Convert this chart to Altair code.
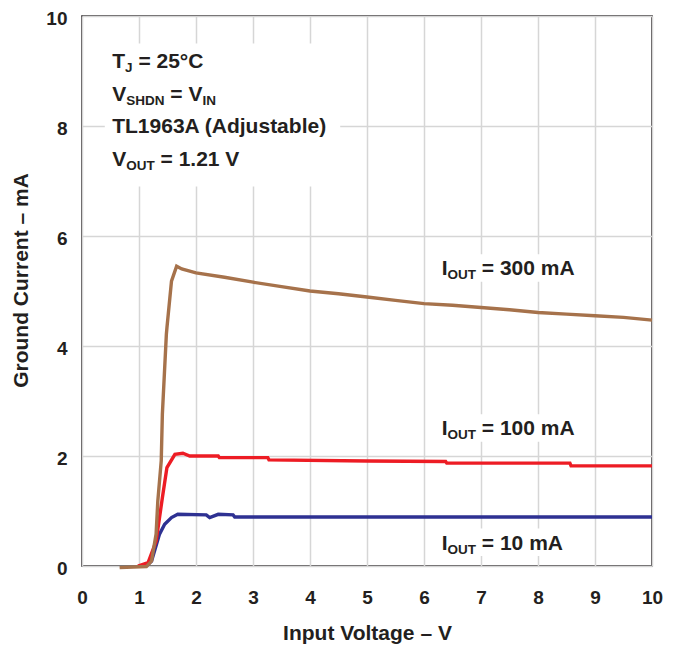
import altair as alt
import pandas as pd

# ---------------- data ----------------
v_300 = [0.66, 1.13, 1.22, 1.30, 1.33, 1.39, 1.41, 1.48, 1.49, 1.57, 1.66, 1.75, 2.0, 2.5, 3.0, 3.5, 4.0, 4.5, 5.0, 5.5, 6.0, 6.5, 7.0, 7.5, 8.0, 8.5, 9.0, 9.5, 10.0]
i_300 = [-0.03, -0.01, 0.09, 0.58, 1.18, 1.91, 2.76, 4.21, 4.33, 5.18, 5.45, 5.40, 5.33, 5.25, 5.16, 5.08, 5.00, 4.95, 4.89, 4.83, 4.77, 4.74, 4.70, 4.66, 4.61, 4.58, 4.55, 4.52, 4.47]

v_100 = [0.98, 1.16, 1.30, 1.41, 1.49, 1.63, 1.77, 1.89, 2.39, 2.41, 3.26, 3.28, 5.0, 6.38, 6.40, 8.56, 8.58, 10.0]
i_100 = [0.0, 0.06, 0.45, 1.24, 1.79, 2.03, 2.05, 2.00, 2.00, 1.97, 1.97, 1.93, 1.91, 1.90, 1.87, 1.87, 1.82, 1.82]

v_10 = [1.13, 1.22, 1.36, 1.45, 1.57, 1.68, 2.18, 2.24, 2.39, 2.65, 2.68, 10.0]
i_10 = [0.0, 0.09, 0.58, 0.76, 0.88, 0.94, 0.93, 0.88, 0.94, 0.93, 0.89, 0.89]

series_names = ["10 mA", "100 mA", "300 mA"]
series_colors = ["#2E3192", "#ED1C24", "#A6724B"]

x_ticks = list(range(0, 11))
y_ticks = [0, 2, 4, 6, 8, 10]

# annotation text: segments (text, is_subscript)
note_lines = [
    [("T", False), ("J", True), (" = 25°C", False)],
    [("V", False), ("SHDN", True), (" = V", False), ("IN", True)],
    [("TL1963A (Adjustable)", False)],
    [("V", False), ("OUT", True), (" = 1.21 V", False)],
]
note_x = 0.53
note_y = [9.05, 8.45, 7.87, 7.27]

load_labels = [
    [("I", False), ("OUT", True), (" = 300 mA", False)],
    [("I", False), ("OUT", True), (" = 100 mA", False)],
    [("I", False), ("OUT", True), (" = 10 mA", False)],
]
load_x = [6.31, 6.31, 6.31]
load_y = [5.29, 2.38, 0.30]

# ---------------- styling helpers ----------------
FONT = "Liberation Sans"
INK = "#231F20"
MAIN_SIZE = 21
SUB_SIZE = 13.5
SUB_DROP = 4

W = {"T": 611, "J": 556, "V": 667, "S": 667, "H": 722, "D": 722, "N": 722, "I": 278,
     "O": 778, "U": 722, "L": 611, "A": 722, " ": 278, "=": 584, "°": 400, "C": 722,
     "(": 333, ")": 333, "d": 611, "j": 278, "u": 611, "s": 556, "t": 333, "a": 556,
     "b": 611, "l": 278, "e": 556, ".": 278, "m": 889}


def text_width(s, size):
    return sum(W.get(ch, 556) for ch in s) * size / 1000.0


x_scale = alt.Scale(domain=[0, 10], nice=False)
y_scale = alt.Scale(domain=[0, 10], nice=False)

x_axis = alt.Axis(values=x_ticks, format="d", title="Input Voltage – V",
                  labelPadding=22, titlePadding=15, labelFlush=False)
y_axis = alt.Axis(values=y_ticks, format="d", title="Ground Current – mA",
                  labelPadding=15, titlePadding=14, labelOffset=2.5, titleY=264,
                  labelFlush=False)

layers = []

# white boxes behind annotations (cover gridlines like in the reference)
boxes = [dict(x=note_x - 0.13, x2=note_x + 4.0, y=note_y[-1] - 0.37, y2=note_y[0] + 0.45)]
for lx, ly in zip(load_x, load_y):
    boxes.append(dict(x=lx - 0.15, x2=lx + 2.5, y=ly - 0.12, y2=ly + 0.38))
box_chart = alt.Chart(pd.DataFrame(boxes)).mark_rect(color="white").encode(
    x=alt.X("x:Q", scale=x_scale, axis=x_axis),
    x2="x2:Q",
    y=alt.Y("y:Q", scale=y_scale, axis=y_axis),
    y2="y2:Q",
)
layers.append(box_chart)

# curves
curve_data = {"300 mA": (v_300, i_300), "100 mA": (v_100, i_100), "10 mA": (v_10, i_10)}
for name, color in zip(series_names, series_colors):
    vs, cs = curve_data[name]
    sub = pd.DataFrame({"v": vs, "i": cs, "k": list(range(len(vs)))})
    layers.append(
        alt.Chart(sub).mark_line(color=color, strokeWidth=3.4, clip=False).encode(
            x=alt.X("v:Q", scale=x_scale, axis=x_axis),
            y=alt.Y("i:Q", scale=y_scale, axis=y_axis),
            order="k:Q",
        )
    )


def add_label(segments, x, y):
    dx = 0.0
    for txt, is_sub in segments:
        size = SUB_SIZE if is_sub else MAIN_SIZE
        stripped = txt.lstrip(" ")
        lead = text_width(txt[: len(txt) - len(stripped)], size)
        layers.append(
            alt.Chart(pd.DataFrame([dict(x=x, y=y, t=stripped)])).mark_text(
                align="left", baseline="alphabetic", font=FONT, fontWeight="bold",
                fontSize=size, color=INK, dx=dx + lead, dy=SUB_DROP if is_sub else 0,
            ).encode(x=alt.X("x:Q", scale=x_scale, axis=x_axis),
                     y=alt.Y("y:Q", scale=y_scale, axis=y_axis), text="t:N")
        )
        dx += text_width(txt, size)


for segs, yy in zip(note_lines, note_y):
    add_label(segs, note_x, yy)
for segs, xx, yy in zip(load_labels, load_x, load_y):
    add_label(segs, xx, yy)

chart = alt.layer(*layers).properties(
    width=570, height=550,
    autosize=alt.AutoSizeParams(type="none"),
    padding={"left": 74, "top": 8, "right": 16, "bottom": 84},
).configure_view(
    stroke=INK, strokeWidth=1.6
).configure_axis(
    grid=True, gridColor="#D6D6D6", gridWidth=1.5, domain=False, ticks=False, tickSize=0,
    labelFont=FONT, labelFontWeight="bold", labelFontSize=19, labelColor=INK,
    titleFont=FONT, titleFontWeight="bold", titleFontSize=21, titleColor=INK,
)

chart.save("out.html", embed_options={"renderer": "svg", "actions": False})
